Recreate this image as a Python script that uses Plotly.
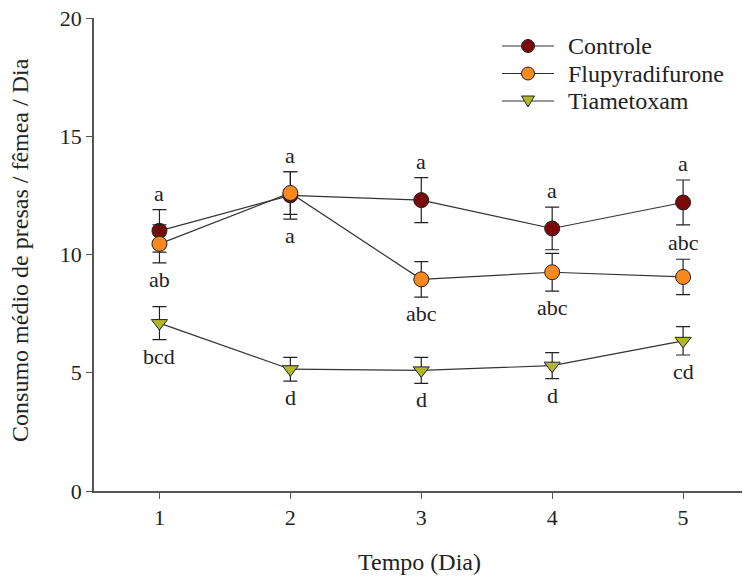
import plotly.graph_objects as go

days = [1, 2, 3, 4, 5]
controle = [11.0, 12.5, 12.3, 11.1, 12.2]
controle_err = [0.9, 1.0, 0.95, 0.9, 0.95]
flupy = [10.45, 12.6, 8.95, 9.25, 9.05]
flupy_err = [0.8, 0.9, 0.75, 0.8, 0.75]
tiam = [7.1, 5.15, 5.1, 5.3, 6.35]
tiam_err = [0.7, 0.5, 0.55, 0.55, 0.6]

series_names = ["Controle", "Flupyradifurone", "Tiametoxam"]
series_colors = ["#7a0a0a", "#f7891f", "#b0b82a"]

controle_letters = ["a", "a", "a", "a", "a"]
flupy_letters = ["ab", "a", "abc", "abc", "abc"]
flupy_pos = ["below", "below", "below", "below", "above"]
tiam_letters = ["bcd", "d", "d", "d", "cd"]

FONT = "Liberation Serif, Times New Roman, serif"
TXT = "#222222"
W, H = 743, 579
ML, MR, MT, MB = 94, 1, 18, 88
PW, PH = W - ML - MR, H - MT - MB

def px(x):
    return (x - ML) / PW

def py(y):
    return (H - MB - y) / PH

fig = go.Figure()

def add_series(name, y, err, symbol, color, size):
    fig.add_trace(go.Scatter(
        x=days, y=y, name=name, mode="lines+markers",
        line=dict(color="#333333", width=1.2),
        marker=dict(symbol=symbol, size=size, color=color,
                    line=dict(color="#222222", width=1)),
        error_y=dict(type="data", array=err, visible=True,
                     color="#222222", thickness=1.2, width=7),
        showlegend=False,
    ))

add_series(series_names[0], controle, controle_err, "circle", series_colors[0], 15)
add_series(series_names[1], flupy, flupy_err, "circle", series_colors[1], 15)
add_series(series_names[2], tiam, tiam_err, "triangle-down", series_colors[2], 14)

annotations = []
def letter(x, y, text, above):
    annotations.append(dict(
        x=x, y=y, text=text, showarrow=False, xref="x", yref="y",
        yanchor="bottom" if above else "top",
        yshift=2 if above else -2,
        font=dict(family=FONT, size=22, color=TXT)))

for i, d in enumerate(days):
    letter(d, controle[i] + controle_err[i], controle_letters[i], True)
    if flupy_pos[i] == "above":
        letter(d, flupy[i] + flupy_err[i], flupy_letters[i], True)
    else:
        lo = min(flupy[i] - flupy_err[i], controle[i] - controle_err[i]) if i == 1 else flupy[i] - flupy_err[i]
        letter(d, lo, flupy_letters[i], False)
    letter(d, tiam[i] - tiam_err[i], tiam_letters[i], False)

# axis titles
annotations.append(dict(x=0.502, y=-0.15, xref="paper", yref="paper",
                        text="Tempo (Dia)", showarrow=False,
                        xanchor="center", yanchor="middle",
                        font=dict(family=FONT, size=24, color=TXT)))
annotations.append(dict(x=-0.114, y=0.51, xref="paper", yref="paper",
                        text="Consumo médio de presas / fêmea / Dia", showarrow=False,
                        textangle=-90, xanchor="center", yanchor="middle",
                        font=dict(family=FONT, size=24, color=TXT)))

# manual legend
shapes = []
rows = [46, 73.5, 101]
lx0, lx1, mx, tx = 502, 554, 528, 566
r = 6.5
for k, (name, col, ry) in enumerate(zip(series_names, series_colors, rows)):
    shapes.append(dict(type="line", xref="paper", yref="paper",
                       x0=px(lx0), x1=px(lx1), y0=py(ry), y1=py(ry),
                       line=dict(color="#333333", width=1.2)))
    if k < 2:
        shapes.append(dict(type="circle", xref="paper", yref="paper",
                           x0=px(mx - r), x1=px(mx + r), y0=py(ry + r), y1=py(ry - r),
                           fillcolor=col, line=dict(color="#222222", width=1)))
    else:
        path = "M {} {} L {} {} L {} {} Z".format(
            px(mx - 6.5), py(ry - 5), px(mx + 6.5), py(ry - 5), px(mx), py(ry + 6))
        shapes.append(dict(type="path", xref="paper", yref="paper", path=path,
                           fillcolor=col, line=dict(color="#222222", width=1)))
    annotations.append(dict(x=px(tx), y=py(ry), xref="paper", yref="paper",
                            text=name, showarrow=False, xanchor="left", yanchor="middle",
                            font=dict(family=FONT, size=24, color=TXT)))

fig.update_layout(
    width=W, height=H,
    margin=dict(l=ML, r=MR, t=MT, b=MB),
    paper_bgcolor="white", plot_bgcolor="white",
    font=dict(family=FONT, size=22, color=TXT),
    showlegend=False,
    annotations=annotations,
    shapes=shapes,
    xaxis=dict(range=[0.5, 5.45], tickvals=days, ticktext=[str(d) for d in days],
               showline=True, linecolor="#555555", linewidth=1.5,
               ticks="outside", ticklen=6, tickcolor="#555555",
               showgrid=False, zeroline=False, automargin=False,
               tickfont=dict(family=FONT, size=22, color=TXT)),
    yaxis=dict(range=[0, 20], tickvals=[0, 5, 10, 15, 20],
               showline=True, linecolor="#555555", linewidth=1.5,
               ticks="outside", ticklen=6, tickcolor="#555555",
               showgrid=False, zeroline=False, automargin=False,
               tickfont=dict(family=FONT, size=22, color=TXT)),
)

fig.write_html("out.html", config={"displayModeBar": False},
               post_script="document.body.style.margin='0';document.body.style.overflow='hidden';")
